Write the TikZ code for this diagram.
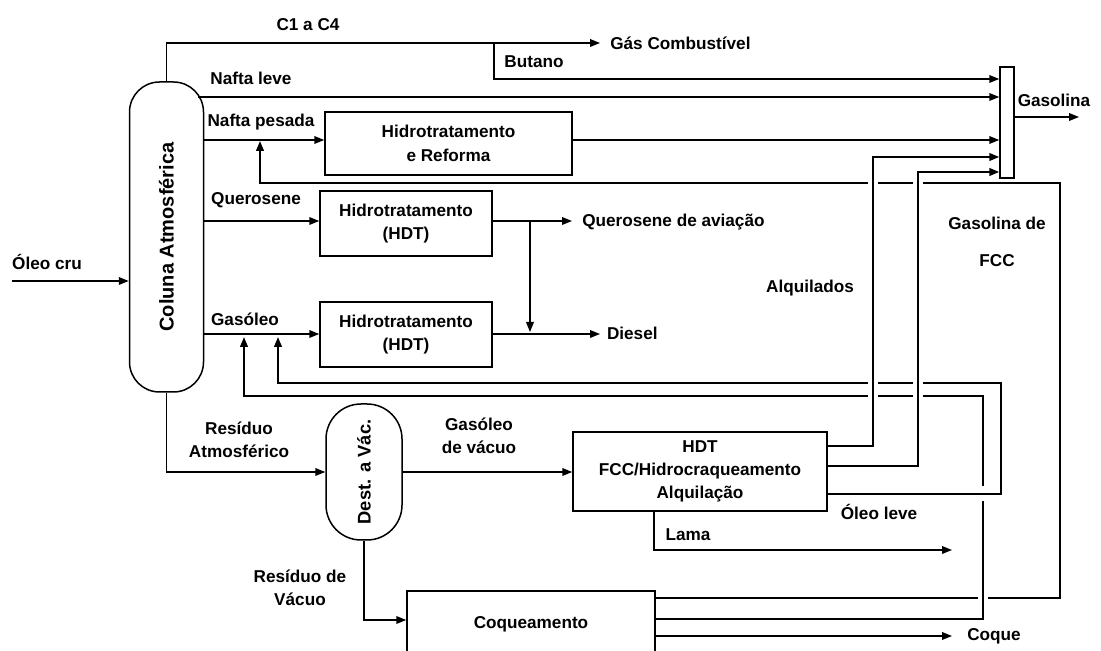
\documentclass[tikz,border=0pt]{standalone}
\usepackage{fontspec}
\setmainfont{Liberation Sans}
\usetikzlibrary{arrows.meta}
\newcommand{\lbfont}{\fontsize{10.3}{14}\selectfont\bfseries}

\tikzset{
  flow/.style={draw, line width=0.9pt, -{Triangle[length=6pt,width=4.6pt]}},
  recyc/.style={flow, line width=1.2pt},
  unit/.style={draw, line width=0.9pt, rectangle, inner sep=0pt, align=center},
  tower/.style={draw, line width=0.9pt, rectangle, rounded corners=18pt, inner sep=0pt},
  lbl/.style={align=center, inner sep=0pt},
  outlbl/.style={anchor=west, inner ysep=0pt},
  hop/.style={draw=white, line width=5.5pt},
}

\begin{document}
\begin{tikzpicture}[x=0.6pt, y=-0.6pt, font=\lbfont]
\useasboundingbox (0,0) rectangle (1101,651);
\clip (0,0) rectangle (1101,651);

% colunas e unidades
\node[tower, minimum width=44.4pt, minimum height=186pt] (col) at (166.5,237) {};
\node[rotate=90, font=\fontsize{12}{14}\selectfont\bfseries] (coltxt) at (col.center) {Coluna Atmosférica};
\node[tower, rounded corners=21pt, minimum width=45.6pt, minimum height=81.6pt] (dest) at (364,472) {};
\node[rotate=90, font=\fontsize{11}{14}\selectfont\bfseries] (desttxt) at (dest.center) {Dest. a Vác.};
\node[unit, minimum width=148.2pt, minimum height=37.8pt] (hr) at (448.5,143.5) {Hidrotratamento\\e Reforma};
\node[unit, minimum width=103.2pt, minimum height=39pt] (hdt1) at (406,223.5) {Hidrotratamento\\(HDT)};
\node[unit, minimum width=103.2pt, minimum height=39pt] (hdt2) at (406,334.5) {Hidrotratamento\\(HDT)};
\node[unit, minimum width=152.4pt, minimum height=47.4pt] (fcc) at (700,471.5) {HDT\\FCC/Hidrocraqueamento\\Alquilação};
\node[unit, minimum width=148.8pt, minimum height=39.6pt] (coq) at (531,624) {Coqueamento};
\node[unit, minimum width=8.4pt, minimum height=66.6pt] (mix) at (1007,122.5) {};

% rotulos
\node[lbl] (c14) at (308,25) {C1 a C4};
\node[lbl] (but) at (534,62) {Butano};
\node[lbl] (nl) at (251,78) {Nafta leve};
\node[lbl] (np) at (261,122) {Nafta pesada};
\node[lbl] (qr) at (256,200) {Querosene};
\node[lbl] (gs) at (245,319) {Gasóleo};
\node[lbl] (oc) at (47,262) {Óleo cru};
\node[lbl] (alq) at (810,288) {Alquilados};
\node[lbl] (gfcc) at (997,242) {Gasolina de\\[8pt]FCC};
\node[lbl] (gsl) at (1054,100) {Gasolina};
\node[lbl] (ratm) at (239,440) {Resíduo\\Atmosférico};
\node[lbl] (gv) at (479,436) {Gasóleo\\de vácuo};
\node[lbl] (ol) at (879,512) {Óleo leve};
\node[lbl] (lm) at (688,535) {Lama};
\node[lbl] (rv) at (300,588) {Resíduo de\\Vácuo};
\node[outlbl, inner xsep=6pt] (gas) at (600,43) {Gás Combustível};
\node[outlbl, inner xsep=6pt] (qav) at (572,222) {Querosene de aviação};
\node[outlbl, inner xsep=4pt] (dsl) at (600,333) {Diesel};
\node[outlbl, inner xsep=9pt] (coque) at (952,636) {Coque};
\coordinate (feed) at (12,281);
\coordinate (bt) at (494,43);
\coordinate (jk) at (530,221);
\coordinate (gout) at (1079,117);
\coordinate (lamaend) at (952,550);

% correntes diretas
\draw[flow] (feed) -- (col.west |- feed);
\draw[flow] (col.north) |- (gas.west);
\draw[flow] (bt) |- (mix.west |- 0,79);
\draw[flow] ([xshift=-3.6pt]col.east |- 0,97) -- (mix.west |- 0,97);
\draw[flow] (col.east |- 0,140) -- (hr.west |- 0,140);
\draw[flow] (hr.east |- 0,140) -- (mix.west |- 0,140);
\draw[flow] (col.east |- 0,221) -- (hdt1.west |- 0,221);
\draw[flow] (hdt1.east |- 0,221) -- (qav.west |- 0,221);
\draw[flow] (jk) -- (jk |- 0,332);
\draw[flow] (col.east |- 0,334) -- (hdt2.west |- 0,334);
\draw[flow] (hdt2.east |- 0,334) -- (dsl.west |- 0,334);
\draw[flow] (mix.east |- gout) -- (gout);
\draw[flow] (col.south) |- (dest.west);
\draw[flow] (dest.east) -- (fcc.west |- dest.east);
\draw[flow] (dest.south) |- (coq.west |- 0,620);
\draw[flow] (fcc.south -| 654,0) |- (lamaend);
\draw[flow] (coq.east |- 0,636) -- (coque.west);

% reciclos (com saltos nos cruzamentos)
\draw[recyc] (coq.east |- 0,598) -| (1060,183) -| (260,141);
\draw[hop] (983,593) -- (983,603);
\draw[recyc] (coq.east |- 0,619) -| (983,396) -| (244,337);
\draw[hop, line width=9pt] (977,494) -- (989,494);
\draw[recyc] (fcc.east |- 0,494) -| (1001,383) -| (278,337);
\foreach \gx in {873,918}
  \foreach \gy in {183,383,396}
    \draw[hop] (\gx,\gy-5) -- (\gx,\gy+5);
\draw[recyc] (fcc.east |- 0,446) -| (873,157) -- (mix.west |- 0,157);
\draw[recyc] (fcc.east |- 0,466) -| (918,172) -- (mix.west |- 0,172);
\end{tikzpicture}
\end{document}
